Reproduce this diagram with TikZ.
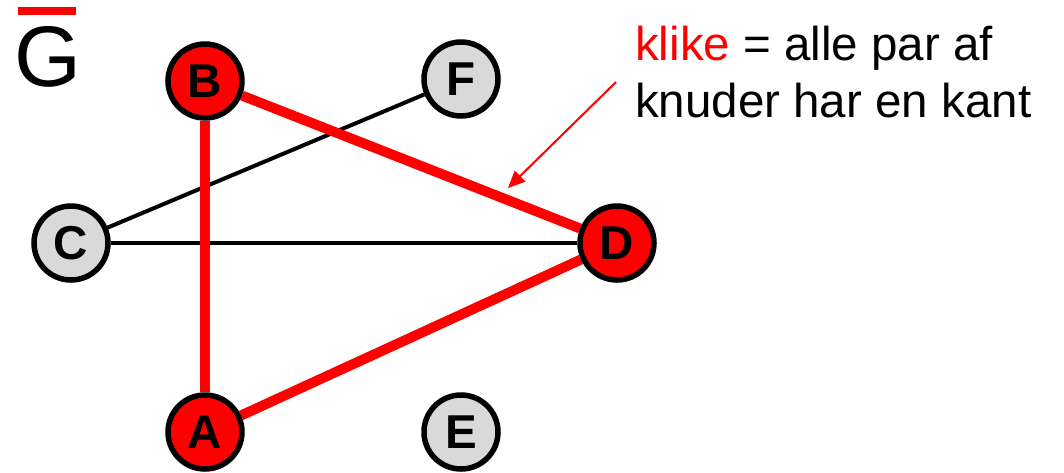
\documentclass[tikz,border=0pt]{standalone}
\usepackage{fontspec}
\setmainfont{Liberation Sans}
\usetikzlibrary{arrows.meta,backgrounds}

\begin{document}
\begin{tikzpicture}[x=1pt, y=-1pt,
    knude/.style={circle, draw=black, line width=5.5pt, minimum size=74pt,
      inner sep=0pt, font=\fontsize{47.5}{57}\selectfont\bfseries},
    klike/.style={knude, fill=red},
    ikkeklike/.style={knude, fill=black!15},
    kliekant/.style={draw=red, line width=10pt},
    kant/.style={draw=black, line width=4pt},
    tekst/.style={anchor=base west, inner sep=0pt, font=\fontsize{47.5}{57}\selectfont}]
  \useasboundingbox (0,0) rectangle (1064,472);

  % graf titel
  \node[anchor=base west, inner sep=0pt, font=\fontsize{86}{90}\selectfont] (titel) at (14,86) {G};
  \fill[red] (18,7) rectangle (76,15);

  % knuder
  \node[klike] (B) at (205,81) {B};
  \node[ikkeklike] (F) at (461,79) {F};
  \node[ikkeklike] (C) at (71,243) {C};
  \node[klike] (D) at (617,243) {D};
  \node[klike] (A) at (205,432) {A};
  \node[ikkeklike] (E) at (461,432) {E};

  % kanter
  \begin{scope}[on background layer]
    \draw[kant] (C) -- (F);
    \draw[kant] (C) -- (D);
    \draw[kliekant] (B) -- (A);
    \draw[kliekant] (B) -- (D);
    \draw[kliekant] (A) -- (D);
  \end{scope}

  % forklaring
  \node[tekst] (linje1) at (635,60) {\textcolor{red}{klike} = alle par af};
  \node[tekst] (linje2) at (635,117) {knuder har en kant};
  \coordinate (pilstart) at (616,82);
  \coordinate (pilspids) at (508,188);
  \draw[red, line width=2pt, -{Triangle[length=17pt, width=15pt]}] (pilstart) -- (pilspids);
\end{tikzpicture}
\end{document}
